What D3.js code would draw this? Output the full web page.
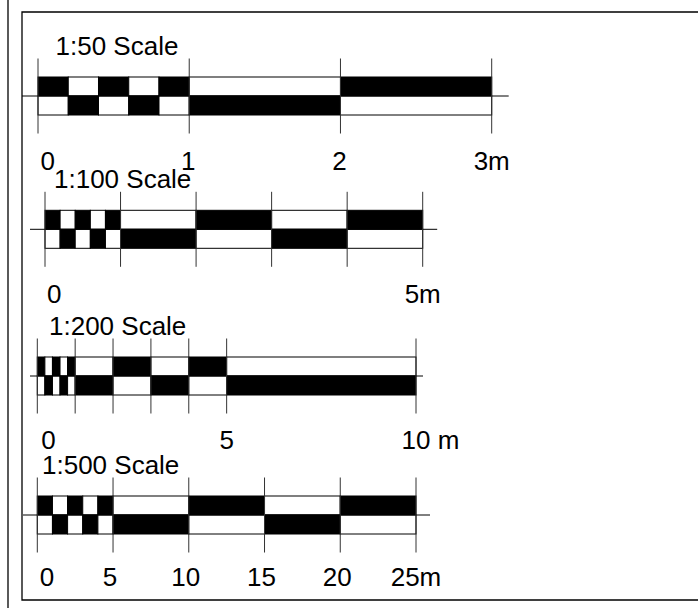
<!DOCTYPE html>
<html>
<head>
<meta charset="utf-8">
<script src="https://cdn.jsdelivr.net/npm/d3@7"></script>
<style>
  html, body { margin: 0; padding: 0; background: #fff; }
  svg { display: block; }
  text { font-family: "Liberation Sans", Arial, sans-serif; font-size: 26px; fill: #000; }
</style>
</head>
<body>
<svg id="chart" width="698" height="608"></svg>
<script>
// ---- data ----
const scaleNames = ["1:50 Scale", "1:100 Scale", "1:200 Scale", "1:500 Scale"];
const maxLengths = [3, 5, 10, 25];
const majorTicks = [
  [0, 1, 2, 3],
  [0, 1, 2, 3, 4, 5],
  [0, 1, 2, 3, 4, 5, 10],
  [0, 5, 10, 15, 20, 25]
];
const subdivisionCounts = [5, 5, 5, 5];   // first major interval is split into 5 cells
const labelValues = [
  [0, 1, 2, 3],
  [0, 5],
  [0, 5, 10],
  [0, 5, 10, 15, 20, 25]
];
const tickLabels = [
  ["0", "1", "2", "3m"],
  ["0", "5m"],
  ["0", "5", "10 m"],
  ["0", "5", "10", "15", "20", "25m"]
];

// ---- layout (positions / sizes only) ----
const layout = [
  { mid: 96,    x0: 38,   x1: 491.7, titleX: 55.5, lineL: 16,   lineR: 17,   labelDy: 74, firstDx: 2.5, labelDx: -1 },
  { mid: 229.3, x0: 45,   x1: 422.7, titleX: 54,   lineL: 15,   lineR: 14.5, labelDy: 74, firstDx: 2,   labelDx: 0 },
  { mid: 376,   x0: 37.3, x1: 416,   titleX: 49,   lineL: 7.3,  lineR: 7,    labelDy: 73, firstDx: 4,   labelDx: 0 },
  { mid: 515,   x0: 37.3, x1: 416,   titleX: 42,   lineL: 14.3, lineR: 14,   labelDy: 71, firstDx: 2.5, labelDx: -3 }
];
const rowH = 19, tickH = 37.5, titleDy = -41;

const svg = d3.select("#chart");

// frame
svg.append("line").attr("x1", 8).attr("x2", 8).attr("y1", 0).attr("y2", 608)
  .attr("stroke", "#000").attr("stroke-width", 1.3);
svg.append("path").attr("d", "M698,12H22V600H698")
  .attr("fill", "none").attr("stroke", "#000").attr("stroke-width", 1.3);

scaleNames.forEach((name, i) => {
  const L = layout[i];
  const x = d3.scaleLinear().domain([0, maxLengths[i]]).range([L.x0, L.x1]);
  const g = svg.append("g");

  // cell boundaries: first major interval subdivided, then the major intervals
  const ticks = majorTicks[i];
  const first = ticks[1];
  const n = subdivisionCounts[i];
  const bounds = d3.range(n).map(k => k * first / n).concat(ticks.slice(1));
  const cells = d3.pairs(bounds).map((p, k) => ({ a: p[0], b: p[1], k }));

  // top row (starts black) and bottom row (starts white)
  [0, 1].forEach(row => {
    g.selectAll(null).data(cells).enter().append("rect")
      .attr("x", d => x(d.a))
      .attr("width", d => x(d.b) - x(d.a))
      .attr("y", row === 0 ? L.mid - rowH : L.mid)
      .attr("height", rowH)
      .attr("fill", d => ((d.k + row) % 2 === 0) ? "#000" : "#fff")
      .attr("stroke", "#000").attr("stroke-width", 1);
  });

  // middle horizontal line
  g.append("line")
    .attr("x1", x(0) - L.lineL).attr("x2", x(maxLengths[i]) + L.lineR)
    .attr("y1", L.mid).attr("y2", L.mid)
    .attr("stroke", "#000").attr("stroke-width", 1);

  // major ticks
  g.selectAll(null).data(ticks).enter().append("line")
    .attr("x1", d => x(d)).attr("x2", d => x(d))
    .attr("y1", L.mid - tickH).attr("y2", L.mid + tickH)
    .attr("stroke", "#333").attr("stroke-width", 1);

  // title
  g.append("text").attr("x", L.titleX).attr("y", L.mid + titleDy).text(name);

  // labels
  labelValues[i].forEach((v, j) => {
    const label = tickLabels[i][j];
    const t = g.append("text").attr("y", L.mid + L.labelDy).text(label);
    const last = j === labelValues[i].length - 1;
    if (j === 0) {
      t.attr("x", x(v) + L.firstDx).attr("text-anchor", "start");
    } else if (label.indexOf(" ") > 0) {
      // center the numeric part on the tick, unit follows
      const num = label.split(" ")[0];
      const tmp = g.append("text").text(num);
      const w = tmp.node().getComputedTextLength();
      tmp.remove();
      t.attr("x", x(v) - w / 2).attr("text-anchor", "start");
    } else {
      t.attr("x", x(v) + (last ? 0 : L.labelDx)).attr("text-anchor", "middle");
    }
  });
});
</script>
</body>
</html>
